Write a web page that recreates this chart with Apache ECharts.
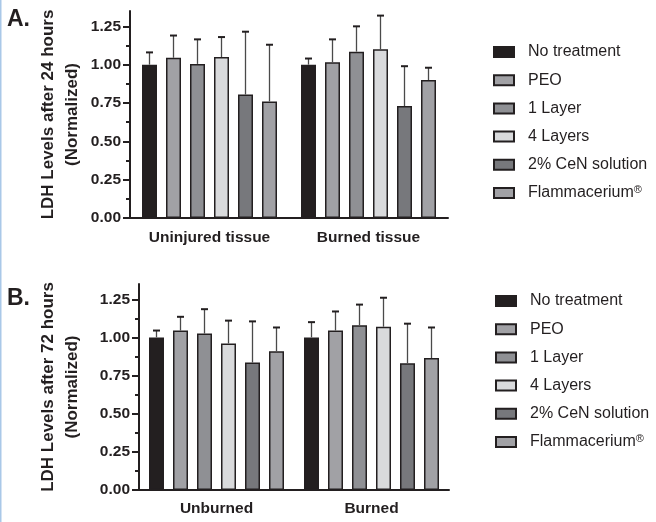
<!DOCTYPE html>
<html><head><meta charset="utf-8">
<script src="https://cdn.jsdelivr.net/npm/echarts@6/dist/echarts.min.js"></script>
<style>html,body{margin:0;padding:0;background:#fff}#c{width:656px;height:522px}</style>
</head><body><div id="c"></div>
<script>
// ---------- data ----------
const treatments = ['No treatment', 'PEO', '1 Layer', '4 Layers', '2% CeN solution', 'Flammacerium®'];
const categories24 = ['Uninjured tissue', 'Burned tissue'];
const categories72 = ['Unburned', 'Burned'];
// 24 h means and SD (per treatment, in legend order)
const uninjured24    = [1.00, 1.045, 1.005, 1.05, 0.805, 0.76];
const uninjured24Err = [0.08, 0.145, 0.16, 0.13, 0.41, 0.37];
const burned24       = [1.00, 1.015, 1.085, 1.10, 0.73, 0.90];
const burned24Err    = [0.04, 0.15, 0.165, 0.22, 0.26, 0.08];
// 72 h means and SD
const unburned72     = [1.00, 1.045, 1.025, 0.96, 0.835, 0.91];
const unburned72Err  = [0.045, 0.09, 0.16, 0.15, 0.27, 0.155];
const burned72       = [1.00, 1.045, 1.08, 1.07, 0.83, 0.865];
const burned72Err    = [0.10, 0.125, 0.135, 0.19, 0.26, 0.20];
const yMajorTicks = [0, 0.25, 0.5, 0.75, 1.0, 1.25];
const yMinorTicks = [0.125, 0.375, 0.625, 0.875, 1.125];

// ---------- style ----------
const FONT = "'Liberation Sans', Arial, Helvetica, sans-serif";
const INK = '#231f20';
const colors = ['#231f20', '#a1a1a5', '#8f9094', '#d9dadc', '#77787c', '#a1a1a5'];
const barW = 15, gapRatio = 0.6;
const yMax = 1.35;

const grids = [
  { left: 130, right: 208, top: 11, bottom: 304 },
  { left: 139, right: 207, top: 284, bottom: 32 }
];
const panels = [
  { cats: categories24, g1: uninjured24, e1: uninjured24Err, g2: burned24, e2: burned24Err,
    title: 'LDH Levels after 24 hours\n(Normalized)', nameGap: 46, labelMargin: 12 },
  { cats: categories72, g1: unburned72, e1: unburned72Err, g2: burned72, e2: burned72Err,
    title: 'LDH Levels after 72 hours\n(Normalized)', nameGap: 55, labelMargin: 11 }
];

const xAxis = [], yAxis = [], series = [];
panels.forEach((p, pi) => {
  xAxis.push({
    type: 'category', gridIndex: pi, data: p.cats,
    axisLine: { lineStyle: { color: INK, width: 2 } },
    axisTick: { alignWithLabel: true, length: 6, lineStyle: { color: INK, width: 2 } },
    axisLabel: { fontFamily: FONT, fontWeight: 'bold', fontSize: 15.5, color: INK, margin: p.labelMargin }
  });
  yAxis.push({
    type: 'value', gridIndex: pi, min: 0, max: yMax, interval: 0.25,
    axisLine: { show: true, lineStyle: { color: INK, width: 2 } },
    axisTick: { show: true, length: 7, customValues: yMajorTicks, lineStyle: { color: INK, width: 2 } },
    axisLabel: { customValues: yMajorTicks, formatter: v => v.toFixed(2),
      fontFamily: FONT, fontWeight: 'bold', fontSize: 15.5, color: INK, margin: 9 },
    splitLine: { show: false },
    name: p.title, nameLocation: 'middle', nameRotate: 90, nameGap: p.nameGap,
    nameTextStyle: { fontFamily: FONT, fontWeight: 'bold', fontSize: 17, color: INK, lineHeight: 24 }
  });
  yAxis.push({
    type: 'value', gridIndex: pi, min: 0, max: yMax, position: 'left', offset: 0,
    axisLine: { show: false },
    axisTick: { show: true, length: 4, customValues: yMinorTicks, lineStyle: { color: INK, width: 2 } },
    axisLabel: { show: false }, splitLine: { show: false }
  });
  const n = treatments.length;
  const step = barW * (1 + gapRatio);
  treatments.forEach((t, i) => {
    series.push({
      type: 'bar', name: t, xAxisIndex: pi, yAxisIndex: 2 * pi,
      data: [p.g1[i], p.g2[i]],
      barWidth: barW, barGap: (gapRatio * 100) + '%',
      itemStyle: { color: colors[i], borderColor: INK, borderWidth: 1.5 },
      z: 2
    });
    const offset = (i - (n - 1) / 2) * step;
    series.push({
      type: 'custom', name: 'err-' + pi + '-' + i, xAxisIndex: pi, yAxisIndex: 2 * pi,
      data: [[0, p.g1[i], p.g1[i] + p.e1[i]], [1, p.g2[i], p.g2[i] + p.e2[i]]],
      encode: { x: 0, y: [1, 2] }, silent: true, z: 3,
      renderItem: (params, api) => {
        const lo = api.coord([api.value(0), api.value(1)]);
        const hi = api.coord([api.value(0), api.value(2)]);
        const x = lo[0] + offset;
        return { type: 'group', children: [
          { type: 'line', shape: { x1: x, y1: lo[1], x2: x, y2: hi[1] },
            style: { stroke: '#4a4a4a', lineWidth: 1.3 } },
          { type: 'line', shape: { x1: x - 3.5, y1: hi[1], x2: x + 3.5, y2: hi[1] },
            style: { stroke: INK, lineWidth: 2 } }
        ] };
      }
    });
  });
});

const legendBase = {
  orient: 'vertical', itemWidth: 20, itemHeight: 10, itemGap: 10.2, icon: 'rect', padding: 0,
  data: treatments, selectedMode: false,
  formatter: name => name.replace('®', '{sup|®}'),
  textStyle: { fontFamily: FONT, fontSize: 16, color: INK, lineHeight: 18, padding: [0, 0, 0, 9],
    rich: { sup: { fontFamily: FONT, fontSize: 11, lineHeight: 11, verticalAlign: 'top', color: INK } } }
};

const chart = echarts.init(document.getElementById('c'), null, { renderer: 'canvas' });
chart.setOption({
  animation: false,
  backgroundColor: '#ffffff',
  grid: grids,
  xAxis, yAxis, series,
  legend: [
    Object.assign({}, legendBase, { left: 493, top: 43 }),
    Object.assign({}, legendBase, { left: 495, top: 292 })
  ],
  graphic: [
    { type: 'rect', shape: { x: 0, y: 0, width: 1.5, height: 522 }, style: { fill: '#a9c8e8' } },
    { type: 'text', left: 7, top: 8, style: { text: 'A.', fontFamily: FONT, fontWeight: 'bold', fontSize: 23, fill: INK } },
    { type: 'text', left: 7, top: 287, style: { text: 'B.', fontFamily: FONT, fontWeight: 'bold', fontSize: 23, fill: INK } }
  ]
});
</script></body></html>
